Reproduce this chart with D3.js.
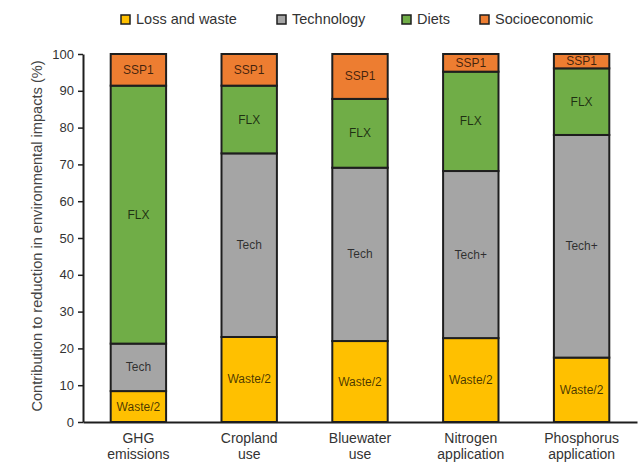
<!DOCTYPE html>
<html>
<head>
<meta charset="utf-8">
<script src="https://cdn.jsdelivr.net/npm/d3@7"></script>
<style>
  html, body { margin: 0; padding: 0; background: #fff; }
  svg { display: block; font-family: "Liberation Sans", Arial, Helvetica, sans-serif; }
</style>
</head>
<body>
<svg id="chart" width="642" height="470"></svg>
<script>
// Categories (two-line labels on the x axis)
const categories = ["GHG emissions", "Cropland use", "Bluewater use", "Nitrogen application", "Phosphorus application"];
const categoryLines = [["GHG", "emissions"], ["Cropland", "use"], ["Bluewater", "use"], ["Nitrogen", "application"], ["Phosphorus", "application"]];

// Series (stacked bottom to top), share of reduction in %
const seriesNames = ["Loss and waste", "Technology", "Diets", "Socioeconomic"];
const lossWaste     = [8.4, 23.1, 22.0, 22.8, 17.5];
const technology    = [12.9, 49.9, 47.1, 45.4, 60.5];
const diets         = [70.1, 18.4, 18.7, 27.0, 18.1];
const socioeconomic = [8.6, 8.6, 12.2, 4.8, 3.9];

// Text written inside each segment
const lossLabels  = ["Waste/2", "Waste/2", "Waste/2", "Waste/2", "Waste/2"];
const techLabels  = ["Tech", "Tech", "Tech", "Tech+", "Tech+"];
const dietLabels  = ["FLX", "FLX", "FLX", "FLX", "FLX"];
const socioLabels = ["SSP1", "SSP1", "SSP1", "SSP1", "SSP1"];

const yTicks = [0, 10, 20, 30, 40, 50, 60, 70, 80, 90, 100];
const yTitle = "Contribution to reduction in environmental impacts (%)";

const colors = ["#FFC000", "#A5A5A5", "#70AD47", "#ED7D31"];

// Build table for the stack layout
const seriesValues = [lossWaste, technology, diets, socioeconomic];
const seriesLabels = [lossLabels, techLabels, dietLabels, socioLabels];
const rows = categories.map((c, i) => {
  const r = { category: c };
  seriesNames.forEach((s, k) => { r[s] = seriesValues[k][i]; });
  return r;
});
const stacked = d3.stack().keys(seriesNames)(rows);

const svg = d3.select("#chart");
const plotLeft = 83, plotRight = 637, plotTop = 54, plotBottom = 422;

const x = d3.scaleBand().domain(categories).range([plotLeft, plotRight]).paddingInner(0.5).paddingOuter(0.25);
const y = d3.scaleLinear().domain([0, 100]).range([plotBottom, plotTop]);

// Bars
const layer = svg.append("g").selectAll("g")
  .data(stacked).join("g")
  .attr("fill", (d, k) => colors[k]);

layer.selectAll("rect")
  .data(d => d)
  .join("rect")
  .attr("x", d => x(d.data.category))
  .attr("width", x.bandwidth())
  .attr("y", d => y(d[1]))
  .attr("height", d => y(d[0]) - y(d[1]))
  .attr("stroke", "#1e1e1e")
  .attr("stroke-width", 2);

// Segment labels
stacked.forEach((s, k) => {
  svg.append("g").selectAll("text")
    .data(s).join("text")
    .attr("x", d => x(d.data.category) + x.bandwidth() / 2)
    .attr("y", d => (y(d[0]) + y(d[1])) / 2)
    .attr("text-anchor", "middle")
    .attr("dominant-baseline", "central")
    .attr("font-size", 12)
    .attr("fill", "#000")
    .attr("fill-opacity", 0.72)
    .text((d, i) => seriesLabels[k][i]);
});

// Y axis
const yAxis = svg.append("g")
  .attr("transform", `translate(${plotLeft},0)`)
  .call(d3.axisLeft(y).tickValues(yTicks).tickSize(5).tickPadding(4).tickSizeOuter(0));
yAxis.select(".domain").attr("stroke", "#1e1e1e").attr("stroke-width", 2);
yAxis.selectAll(".tick line").attr("stroke", "#1e1e1e").attr("stroke-width", 1.5);
yAxis.selectAll(".tick text").attr("font-size", 13).attr("fill", "#333")
  .attr("font-family", "'Liberation Sans', Arial, sans-serif");

// X axis (line only, labels drawn as two lines)
const xAxis = svg.append("g")
  .attr("transform", `translate(0,${plotBottom})`)
  .call(d3.axisBottom(x).tickSize(0).tickFormat(""));
xAxis.select(".domain").attr("stroke", "#1e1e1e").attr("stroke-width", 2);

const xl = svg.append("g").selectAll("text")
  .data(categories).join("text")
  .attr("x", d => x(d) + x.bandwidth() / 2)
  .attr("y", 443)
  .attr("text-anchor", "middle")
  .attr("font-size", 14)
  .attr("fill", "#333");
xl.selectAll("tspan")
  .data((d, i) => categoryLines[i].map((t, j) => ({ t, j })))
  .join("tspan")
  .attr("x", function () { return d3.select(this.parentNode).attr("x"); })
  .attr("dy", d => d.j === 0 ? 0 : 16)
  .text(d => d.t);

// Y axis title
svg.append("text")
  .attr("transform", `translate(42,236) rotate(-90)`)
  .attr("text-anchor", "middle")
  .attr("font-size", 14.6)
  .attr("fill", "#444")
  .text(yTitle);

// Legend
const legendX = [121, 277, 402, 480];
const legend = svg.append("g").selectAll("g")
  .data(seriesNames).join("g")
  .attr("transform", (d, i) => `translate(${legendX[i]},15)`);
legend.append("rect")
  .attr("width", 9).attr("height", 9)
  .attr("fill", (d, i) => colors[i])
  .attr("stroke", "#1e1e1e").attr("stroke-width", 1.5);
legend.append("text")
  .attr("x", 15).attr("y", 9)
  .attr("font-size", 14.5)
  .attr("fill", "#333")
  .text(d => d);
</script>
</body>
</html>
